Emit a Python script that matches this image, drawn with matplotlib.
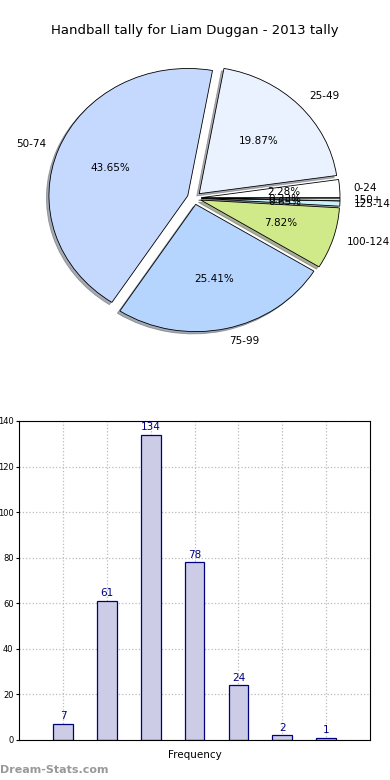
import matplotlib
matplotlib.use('Agg')
import matplotlib.pyplot as plt

# data
labels = ['0-24', '25-49', '50-74', '75-99', '100-124', '125-149', '150+']
counts = [7, 61, 134, 78, 24, 2, 1]
colors = ['#ffffff', '#eaf1ff', '#c5d9ff', '#b5d5ff', '#d0ea8a', '#c8f0fa', '#e0e0e0']
title = 'Handball tally for Liam Duggan - 2013 tally'

fig = plt.figure(figsize=(3.9, 7.8), dpi=100)

# pie
ax1 = fig.add_axes([0.053, 0.542, 0.89, 0.408])
wedges, texts, autotexts = ax1.pie(counts, labels=labels, colors=colors, autopct='%1.2f%%',
                                   explode=[0.05] * len(counts), startangle=0,
                                   shadow={'ox': -0.013, 'oy': -0.013, 'shade': 0.6},
                                   wedgeprops={'edgecolor': 'black', 'linewidth': 0.6},
                                   textprops={'fontsize': 7.5})
ax1.set_aspect('auto')
ax1.set_xlim(-1.25, 1.25)
ax1.set_ylim(-1.25, 1.25)
fig.text(0.5, 0.961, title, ha='center', va='center', fontsize=9.5)

# bars
ax2 = fig.add_axes([0.049, 0.0513, 0.9, 0.409])
xs = range(1, len(counts) + 1)
ax2.bar(xs, counts, width=0.45, color='#ccccE6', edgecolor='#000080', linewidth=0.9, zorder=2)
for x, c in zip(xs, counts):
    ax2.text(x, c + 1.2, str(c), ha='center', va='bottom', color='#000080', fontsize=7.5)
ax2.set_xlim(0, 8)
ax2.set_ylim(0, 140)
ax2.set_xticks(list(xs))
ax2.set_xticklabels([])
ax2.set_yticks(range(0, 141, 20))
ax2.tick_params(axis='y', labelsize=6, length=2, pad=2)
ax2.tick_params(axis='x', length=0)
ax2.grid(True, linestyle=':', color='#bbbbbb', linewidth=0.9, zorder=0)
ax2.set_xlabel('Frequency', fontsize=7.5, labelpad=4)

fig.text(0.0, 0.013, 'Dream-Stats.com', color='#999999', fontsize=8, fontweight='bold', ha='left', va='center')

plt.savefig('out.png', dpi=100)
